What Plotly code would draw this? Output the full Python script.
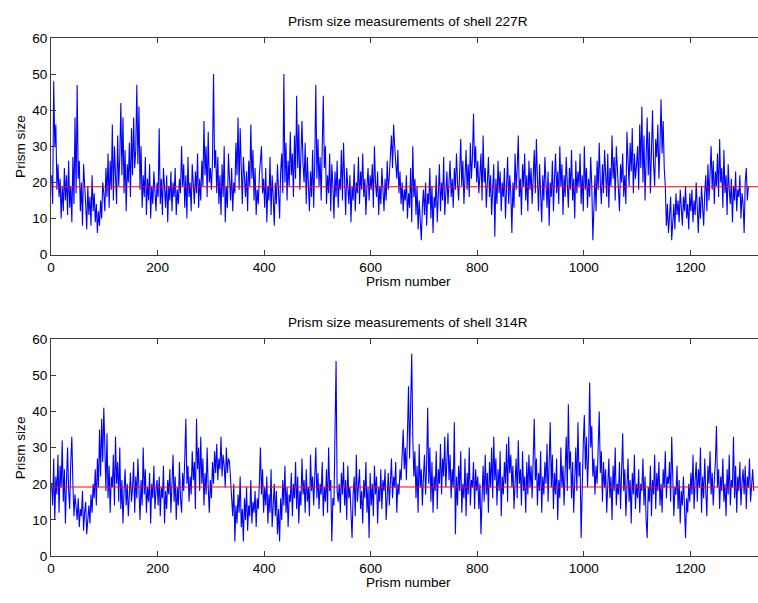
import plotly.graph_objects as go
from plotly.subplots import make_subplots

# Prism size readings, every second prism (prism numbers 1, 3, 5, ...)
# Shell 227R, in blocks of 100 prisms
s227_0 = [22, 14, 48, 30, 36, 18, 25, 16, 21, 10, 19, 12, 24, 15, 22, 11, 26, 13, 19, 9, 27, 14, 38, 17, 47, 21, 26, 12, 20, 8, 25, 17, 14, 7, 19, 11, 16, 8, 22, 12, 17, 9, 14, 6, 12, 8, 15, 10, 20, 17]
s227_1 = [12, 24, 16, 28, 13, 26, 18, 36, 15, 30, 21, 14, 33, 19, 27, 42, 22, 38, 17, 29, 12, 25, 20, 31, 16, 35, 22, 38, 24, 29, 47, 25, 41, 18, 30, 13, 22, 16, 27, 11, 21, 15, 25, 10, 19, 14, 23, 17, 12, 20]
s227_2 = [16, 35, 14, 21, 11, 24, 18, 13, 22, 9, 19, 15, 23, 12, 20, 16, 24, 11, 18, 14, 21, 17, 30, 19, 25, 13, 22, 10, 27, 16, 20, 12, 25, 18, 14, 23, 17, 28, 13, 21, 15, 26, 19, 37, 22, 30, 16, 34, 20, 24]
s227_3 = [18, 26, 50, 24, 29, 17, 27, 14, 22, 11, 25, 16, 30, 9, 19, 13, 28, 21, 15, 24, 12, 20, 17, 31, 22, 38, 18, 35, 25, 14, 27, 20, 16, 23, 12, 26, 19, 36, 21, 29, 15, 24, 11, 18, 14, 22, 27, 30, 17, 21]
s227_4 = [13, 24, 9, 19, 15, 27, 11, 22, 16, 8, 20, 14, 25, 18, 10, 23, 28, 17, 50, 20, 31, 15, 26, 19, 34, 22, 28, 16, 33, 21, 44, 24, 36, 18, 30, 37, 25, 20, 31, 14, 27, 19, 12, 23, 16, 29, 13, 26, 47, 21]
s227_5 = [32, 19, 27, 15, 36, 44, 24, 30, 14, 22, 17, 28, 12, 25, 19, 10, 23, 16, 26, 13, 21, 18, 29, 15, 31, 20, 11, 24, 17, 14, 22, 9, 19, 15, 25, 12, 20, 17, 27, 14, 23, 18, 28, 16, 21, 11, 19, 24, 15, 22]
s227_6 = [18, 25, 13, 30, 20, 16, 23, 11, 19, 14, 24, 17, 12, 21, 15, 26, 18, 22, 27, 33, 24, 36, 30, 26, 21, 29, 17, 23, 14, 20, 12, 18, 15, 22, 10, 17, 13, 24, 9, 30, 16, 21, 11, 19, 7, 15, 10, 4, 13, 18]
s227_7 = [11, 20, 8, 17, 14, 24, 10, 19, 6, 16, 13, 22, 9, 18, 25, 12, 20, 15, 27, 11, 17, 23, 14, 19, 26, 16, 21, 13, 24, 18, 28, 20, 15, 23, 32, 19, 26, 14, 22, 29, 18, 25, 16, 31, 21, 27, 39, 24, 30, 20]
s227_8 = [26, 17, 22, 28, 15, 33, 20, 24, 13, 19, 27, 16, 22, 11, 18, 25, 5, 21, 14, 26, 17, 23, 12, 20, 16, 24, 10, 19, 27, 14, 22, 17, 6, 20, 13, 28, 18, 24, 33, 16, 21, 11, 25, 19, 28, 15, 22, 12, 26, 18]
s227_9 = [24, 14, 20, 29, 17, 32, 21, 12, 25, 18, 9, 22, 15, 27, 19, 13, 23, 8, 20, 16, 26, 12, 21, 28, 17, 23, 14, 30, 19, 25, 11, 22, 16, 27, 20, 13, 24, 18, 29, 15, 21, 10, 26, 17, 23, 19, 28, 14, 22, 12]
s227_10 = [30, 18, 24, 13, 21, 16, 27, 19, 4, 15, 22, 12, 26, 18, 31, 20, 14, 25, 17, 29, 22, 16, 28, 13, 24, 19, 33, 21, 27, 15, 30, 23, 18, 12, 25, 20, 28, 16, 22, 14, 34, 26, 19, 31, 23, 35, 17, 28, 21, 25]
s227_11 = [30, 18, 36, 24, 41, 20, 33, 15, 28, 38, 22, 34, 17, 29, 40, 25, 19, 32, 27, 36, 21, 30, 43, 28, 37, 24, 19, 8, 14, 6, 12, 16, 4, 10, 14, 7, 17, 11, 15, 9, 18, 13, 8, 16, 12, 19, 10, 14, 7, 17]
s227_12 = [12, 18, 9, 15, 11, 20, 13, 6, 16, 10, 19, 14, 8, 17, 22, 12, 25, 15, 21, 30, 18, 26, 14, 23, 19, 28, 16, 32, 20, 24, 13, 29, 17, 22, 11, 25, 18, 14, 21, 9, 19, 15, 23, 12, 18, 16, 22, 10, 17, 14]
s227_13 = [6, 20, 24, 15, 19]

# Shell 314R, in blocks of 100 prisms
s314_0 = [20, 14, 27, 10, 22, 17, 28, 12, 25, 19, 32, 15, 24, 9, 21, 30, 18, 13, 26, 33, 20, 11, 17, 14, 10, 16, 8, 13, 11, 18, 7, 12, 15, 6, 10, 14, 9, 17, 12, 20, 16, 24, 14, 27, 19, 35, 22, 38, 26, 41]
s314_1 = [30, 18, 34, 16, 25, 12, 22, 19, 28, 14, 33, 20, 26, 15, 30, 13, 21, 9, 18, 24, 14, 20, 11, 17, 23, 15, 19, 26, 12, 22, 16, 27, 18, 10, 21, 14, 30, 17, 24, 12, 19, 15, 23, 9, 20, 16, 25, 13, 18, 21]
s314_2 = [14, 22, 11, 19, 16, 25, 9, 18, 13, 21, 17, 24, 12, 20, 28, 15, 22, 10, 19, 14, 26, 16, 12, 23, 18, 27, 38, 20, 25, 15, 22, 17, 29, 21, 26, 13, 38, 24, 30, 18, 33, 20, 27, 14, 23, 17, 30, 19, 12, 21]
s314_3 = [16, 26, 20, 29, 23, 31, 21, 27, 24, 33, 22, 28, 25, 19, 30, 23, 27, 26, 21, 15, 11, 20, 4, 14, 9, 17, 12, 22, 8, 13, 4, 16, 10, 19, 7, 14, 11, 21, 9, 15, 12, 18, 8, 16, 13, 20, 30, 17, 24, 12]
s314_4 = [19, 14, 22, 9, 17, 12, 24, 8, 15, 20, 11, 18, 6, 13, 4, 16, 10, 21, 14, 25, 12, 19, 8, 17, 15, 23, 11, 20, 16, 26, 13, 22, 9, 18, 14, 27, 17, 21, 12, 24, 15, 19, 11, 28, 18, 22, 14, 25, 30, 16]
s314_5 = [23, 13, 20, 17, 26, 11, 19, 15, 24, 12, 30, 18, 21, 4, 16, 14, 38, 54, 18, 15, 20, 12, 23, 17, 26, 14, 21, 10, 25, 16, 19, 13, 5, 17, 22, 11, 28, 15, 20, 24, 13, 18, 9, 21, 16, 26, 12, 19, 5, 23]
s314_6 = [14, 20, 11, 25, 17, 22, 9, 19, 15, 24, 13, 21, 18, 24, 10, 17, 23, 14, 20, 27, 16, 22, 19, 26, 12, 20, 17, 24, 21, 29, 35, 24, 30, 21, 38, 47, 27, 46, 56, 33, 22, 29, 16, 25, 12, 31, 19, 24, 14, 22]
s314_7 = [28, 17, 25, 41, 20, 30, 15, 26, 12, 22, 18, 29, 13, 24, 20, 31, 17, 27, 22, 33, 19, 26, 34, 21, 28, 16, 24, 19, 37, 6, 22, 14, 25, 18, 29, 12, 20, 16, 27, 11, 23, 17, 30, 14, 21, 19, 26, 13, 24, 18]
s314_8 = [22, 13, 20, 6, 18, 25, 15, 28, 17, 23, 12, 26, 19, 30, 16, 33, 21, 27, 14, 24, 18, 29, 11, 22, 17, 26, 20, 31, 15, 33, 23, 28, 19, 25, 13, 21, 27, 16, 32, 20, 24, 14, 29, 18, 22, 12, 26, 17, 28, 19]
s314_9 = [25, 16, 30, 38, 21, 27, 14, 23, 18, 29, 12, 22, 17, 26, 20, 31, 15, 24, 37, 19, 28, 13, 23, 17, 27, 10, 21, 16, 30, 19, 25, 14, 22, 33, 18, 42, 24, 29, 16, 26, 12, 21, 30, 18, 37, 22, 26, 5, 20, 31]
s314_10 = [39, 24, 33, 19, 28, 48, 30, 36, 22, 27, 17, 25, 20, 31, 40, 23, 29, 15, 26, 19, 24, 12, 21, 27, 16, 22, 10, 25, 18, 30, 14, 20, 17, 26, 13, 22, 34, 18, 24, 11, 19, 27, 15, 21, 9, 23, 17, 28, 13, 20]
s314_11 = [16, 24, 12, 20, 18, 27, 14, 22, 10, 5, 19, 15, 25, 11, 21, 17, 28, 13, 23, 18, 26, 14, 20, 12, 24, 19, 29, 16, 22, 20, 26, 15, 33, 23, 11, 19, 17, 25, 13, 21, 9, 18, 14, 22, 10, 5, 16, 12, 20, 15]
s314_12 = [23, 17, 28, 13, 21, 26, 15, 24, 19, 30, 12, 22, 16, 27, 18, 11, 25, 20, 29, 17, 23, 14, 21, 26, 36, 19, 24, 13, 22, 18, 27, 15, 20, 11, 24, 17, 28, 14, 21, 19, 33, 16, 25, 12, 22, 18, 26, 14, 20, 24]
s314_13 = [17, 25, 13, 22, 19, 27, 15, 21, 24, 18]

# Mean prism size of each shell (horizontal reference line)
mean_227 = 18.8
mean_314 = 19.1

titles = ["Prism size measurements of shell 227R", "Prism size measurements of shell 314R"]
x_label = "Prism number"
y_label = "Prism size"
x_ticks = [0, 200, 400, 600, 800, 1000, 1200]
y_ticks = [0, 10, 20, 30, 40, 50, 60]

blocks_227 = [s227_0, s227_1, s227_2, s227_3, s227_4, s227_5, s227_6,
              s227_7, s227_8, s227_9, s227_10, s227_11, s227_12, s227_13]
blocks_314 = [s314_0, s314_1, s314_2, s314_3, s314_4, s314_5, s314_6,
              s314_7, s314_8, s314_9, s314_10, s314_11, s314_12, s314_13]


def assemble(blocks):
    xs, ys = [], []
    for b, block in enumerate(blocks):
        for i, v in enumerate(block):
            xs.append(100 * b + 1 + 2 * i)
            ys.append(v)
    return xs, ys


W, H = 758, 603
# axes boxes in pixels: (top, bottom); left edge shared
left_px = 47.3
boxes = [(31.7, 254.0), (340.7, 563.0)]
x_max = 1327

fig = make_subplots(rows=2, cols=1)

series = [(blocks_227, mean_227), (blocks_314, mean_314)]
for r, (blocks, mean_val) in enumerate(series, start=1):
    xs, ys = assemble(blocks)
    fig.add_trace(go.Scatter(x=xs, y=ys, mode="lines",
                             line=dict(color="#0000ff", width=1.1),
                             showlegend=False, hoverinfo="skip"), row=r, col=1)
    fig.add_trace(go.Scatter(x=[0, x_max], y=[mean_val, mean_val], mode="lines",
                             line=dict(color="#ff0000", width=1),
                             showlegend=False, hoverinfo="skip"), row=r, col=1)

axis_col = "#3a3a3a"
font_main = "Liberation Sans, Arial, Helvetica, sans-serif"
fs = 13.6

for r, (top, bot) in enumerate(boxes, start=1):
    dom_y = [1 - bot / H, 1 - top / H]
    xa = "xaxis" if r == 1 else f"xaxis{r}"
    ya = "yaxis" if r == 1 else f"yaxis{r}"
    fig.layout[xa].update(
        domain=[left_px / W, 1], range=[0, x_max], tickvals=x_ticks,
        ticks="inside", ticklen=5, tickcolor=axis_col, showline=True,
        linecolor=axis_col, linewidth=1, mirror="ticks", showgrid=False,
        zeroline=False, tickfont=dict(family=font_main, size=fs, color="#000"))
    fig.layout[ya].update(
        domain=dom_y, range=[0, 60], tickvals=y_ticks,
        ticks="inside", ticklen=5, tickcolor=axis_col, showline=True,
        linecolor=axis_col, linewidth=1, mirror=False, showgrid=False,
        zeroline=False, tickfont=dict(family=font_main, size=fs, color="#000"))

    cx = 406.5
    fig.add_annotation(text=titles[r - 1], xref="paper", yref="paper",
                       x=cx / W, y=1 - (top - 16.7) / H, showarrow=False,
                       xanchor="center", yanchor="middle",
                       font=dict(family=font_main, size=fs, color="#000"))
    fig.add_annotation(text=x_label, xref="paper", yref="paper",
                       x=cx / W, y=1 - (bot + 27) / H, showarrow=False,
                       xanchor="center", yanchor="middle",
                       font=dict(family=font_main, size=fs, color="#000"))
    fig.add_annotation(text=y_label, xref="paper", yref="paper",
                       x=16.7 / W, y=1 - ((top + bot) / 2) / H, showarrow=False,
                       textangle=-90, xanchor="center", yanchor="middle",
                       font=dict(family=font_main, size=fs, color="#000"))

fig.update_layout(width=W, height=H, margin=dict(l=0, r=0, t=0, b=0),
                  paper_bgcolor="#ffffff", plot_bgcolor="#ffffff")

fig.write_html("out.html")
